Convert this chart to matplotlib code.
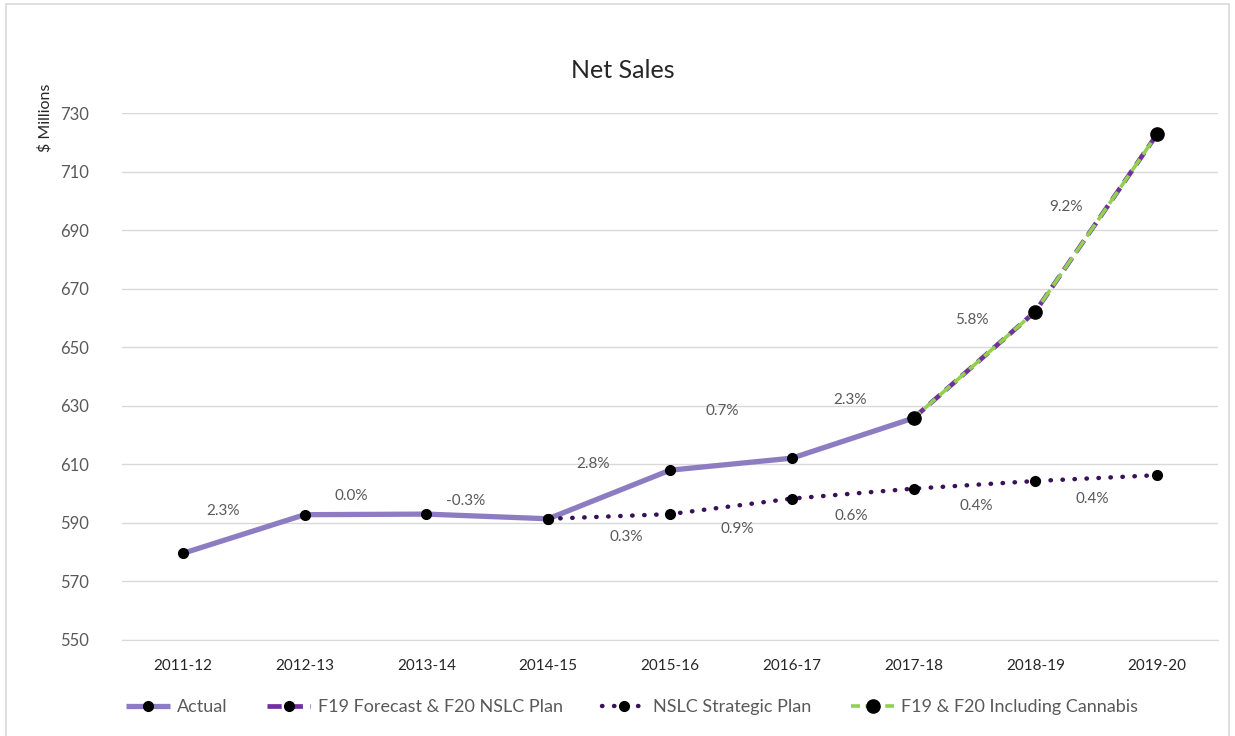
import matplotlib.pyplot as plt
import matplotlib.patches as patches

plt.rcParams['font.family'] = ['Lato', 'DejaVu Sans']

# data
years = ['2011-12', '2012-13', '2013-14', '2014-15', '2015-16',
         '2016-17', '2017-18', '2018-19', '2019-20']
actual = [579.6, 592.8, 593.0, 591.4, 608.0, 612.1, 625.8]
forecast = [625.8, 662.2, 722.8]          # 2017-18 .. 2019-20
cannabis = [625.8, 662.2, 722.8]          # 2017-18 .. 2019-20
strategic = [591.4, 593.0, 598.3, 601.7, 604.3, 606.3]  # 2014-15 .. 2019-20

actual_pct = ['2.3%', '0.0%', '-0.3%', '2.8%', '0.7%', '2.3%', '5.8%', '9.2%']
strategic_pct = ['0.3%', '0.9%', '0.6%', '0.4%', '0.4%']

# label offsets (pixels) from each segment midpoint
actual_off = [(-21, 23), (-14, 18), (-22, 15), (-16, 30), (-9, 53),
              (-3, 38), (-3, 45), (-30, 16)]
strategic_off = [(17, -21), (6, -23), (-1, -22), (2, -21), (-4, -21)]

x = list(range(len(years)))
x_act = x[:len(actual)]
x_fc = x[6:]
x_st = x[3:]

fig = plt.figure(figsize=(12.35, 7.36), dpi=100)
ax = fig.add_axes([122 / 1235, 1 - 640 / 736, 1096 / 1235, 527 / 736])

grid_c = '#D9D9D9'
ax.plot(x_act, actual, color='#8E7CC3', lw=3.8, marker='o', ms=7,
        mfc='black', mec='black', label='Actual', zorder=3, solid_capstyle='butt')
ax.plot(x_fc, forecast, color='#7030A0', lw=3.4, ls=(0, (3, 1.5)), marker='o', ms=7,
        mfc='black', mec='black', label='F19 Forecast & F20 NSLC Plan', zorder=4)
ax.plot(x_st, strategic, color='#3A1158', lw=3.2, ls=(0, (0.1, 2.6)),
        dash_capstyle='round', marker='o', ms=7, mfc='black', mec='black',
        label='NSLC Strategic Plan', zorder=3)
ax.plot(x_fc, cannabis, color='#92D050', lw=2.6, ls=(1.5, (4, 1.5)), marker='o', ms=9.5,
        mfc='black', mec='black', label='F19 & F20 Including Cannabis', zorder=5)

# growth labels
xs_all = x
ys_all = actual + forecast[1:]
for i, txt in enumerate(actual_pct):
    mx = (xs_all[i] + xs_all[i + 1]) / 2
    my = (ys_all[i] + ys_all[i + 1]) / 2
    ax.annotate(txt, (mx, my), xytext=actual_off[i], textcoords='offset pixels',
                ha='center', va='center', fontsize=11, color='#595959')
for i, txt in enumerate(strategic_pct):
    mx = (x_st[i] + x_st[i + 1]) / 2
    my = (strategic[i] + strategic[i + 1]) / 2
    ax.annotate(txt, (mx, my), xytext=strategic_off[i], textcoords='offset pixels',
                ha='center', va='center', fontsize=11, color='#595959')

ax.set_xlim(-0.5, 8.5)
ax.set_ylim(550, 730)
ax.set_yticks(range(550, 731, 20))
ax.set_xticks(x)
ax.set_xticklabels(years)
ax.tick_params(axis='y', length=0, pad=24, labelsize=12, labelcolor='#595959')
ax.tick_params(axis='x', length=0, pad=14, labelsize=11, labelcolor='#262626')
ax.grid(axis='y', color=grid_c, lw=1)
ax.set_axisbelow(True)
for s in ['top', 'right', 'left']:
    ax.spines[s].set_visible(False)
ax.spines['bottom'].set_color(grid_c)

fig.text(623 / 1235, 1 - 70 / 736, 'Net Sales', fontsize=18, color='#262626',
         ha='center', va='center')
fig.text(45 / 1235, 1 - 118 / 736, r'\$ Millions', rotation=90,
         ha='center', va='center', fontsize=11.5, color='#262626')

fig.legend(loc='center', bbox_to_anchor=(0.512, 1 - 707 / 736), ncol=4,
           frameon=False, fontsize=13, labelcolor='#595959', handlelength=2.4,
           columnspacing=2.2, handletextpad=0.4)

# outer chart border
fig.patches.append(patches.Rectangle((6 / 1235, -0.01), 1223 / 1235, 1 - 4 / 736 + 0.01,
                                     transform=fig.transFigure, fill=False,
                                     edgecolor=grid_c, lw=1.2))

fig.savefig('out.png', dpi=100)
